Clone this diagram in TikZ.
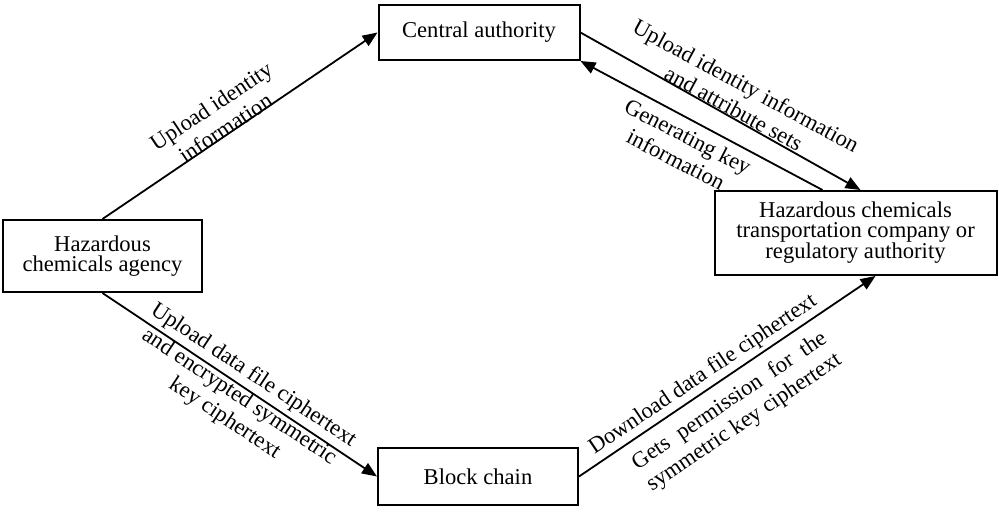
\documentclass[tikz,border=0pt]{standalone}
\usepackage{fontspec}
\setmainfont{Liberation Serif}
\usepackage{calc}
\usetikzlibrary{arrows.meta}
\tikzset{
    plain-box/.style = {draw=black, line width=2pt, rectangle, align=center, inner sep=2pt, font=\fontsize{22.6}{19.5}\selectfont},
    flow-label/.style = {align=center, inner sep=0pt, font=\fontsize{22.6}{26}\selectfont},
    flow-arrow/.style = {line width=1.8pt, -{Triangle[length=15pt,width=12pt]}},
}
\begin{document}
\begin{tikzpicture}[x=1pt, y=-1pt]
\useasboundingbox (0,0) rectangle (999,512);
% boxes
\node [plain-box, minimum width=201pt, minimum height=55pt] (ca) at (479,32.5) {Central authority};
\node [plain-box, minimum width=199pt, minimum height=72pt] (agency) at (102.5,256) {Hazardous\\chemicals agency};
\node [plain-box, minimum width=200pt, minimum height=57pt] (block) at (478,476.5) {Block chain};
\node [plain-box, minimum width=282pt, minimum height=84pt] (trans) at (855.5,233) {Hazardous chemicals\\transportation company or\\regulatory authority};
% arrows
\draw [flow-arrow] (agency.north) -- (ca.west);
\draw [flow-arrow] (ca.east) -- ([xshift=5pt]trans.north);
\draw [flow-arrow] ([xshift=-33pt]trans.north) -- (ca.south east);
\draw [flow-arrow] (agency.south) -- (block.west);
\draw [flow-arrow] (block.east) -- ([xshift=20pt]trans.south);
% labels
\node [flow-label, rotate=33.6] (upId) at (218,117) {Upload identity\\information};
\node [flow-label, rotate=-28.6] (upAttr) at (740,97) {Upload identity information\\and attribute sets};
\node [flow-label, rotate=-27.3] (genKey) at (682,148) {Generating key\\information};
\node [flow-label, rotate=-33.6] (upData) at (239,397) {Upload data file ciphertext\\and encrypted symmetric\\key ciphertext};
\node [flow-label, rotate=34] (down) at (703,375) {Download data file ciphertext};
\node [flow-label, rotate=34] (perm) at (737,412) {\makebox[\widthof{symmetric key ciphertext}][s]{Gets permission for the}\\symmetric key ciphertext};
\end{tikzpicture}
\end{document}
